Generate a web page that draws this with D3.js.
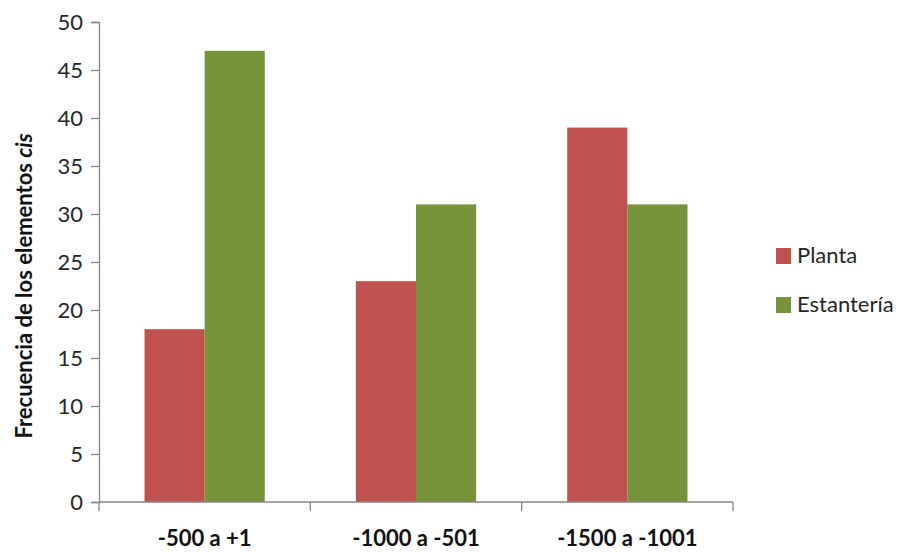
<!DOCTYPE html>
<html>
<head>
<meta charset="utf-8">
<script src="https://cdnjs.cloudflare.com/ajax/libs/d3/7.8.5/d3.min.js"></script>
<style>
  html, body { margin: 0; padding: 0; background: #fff; }
  svg { display: block; font-family: Lato, "Open Sans", sans-serif; }
</style>
</head>
<body>
<svg id="chart" width="907" height="552"></svg>
<script>
// Rangos de profundidad y frecuencias por ubicación
const categories = ["-500 a +1", "-1000 a -501", "-1500 a -1001"];
const seriesNames = ["Planta", "Estantería"];
const planta = [18, 23, 39];
const estanteria = [47, 31, 31];
const yTicks = [0, 5, 10, 15, 20, 25, 30, 35, 40, 45, 50];
const colors = ["#C0504D", "#77933C"];

const values = [planta, estanteria];

const svg = d3.select("#chart");
const plotLeft = 99, plotRight = 733, plotTop = 22, plotBottom = 502;

const x = d3.scaleBand().domain(categories).range([plotLeft, plotRight]).padding(0);
const xs = d3.scaleBand().domain(seriesNames)
  .range([x.bandwidth() * 0.2155, x.bandwidth() * 0.7845]).padding(0);
const y = d3.scaleLinear().domain([0, 50]).range([plotBottom, plotTop]);

// Barras
const groups = svg.append("g").selectAll("g")
  .data(categories).join("g")
  .attr("transform", d => `translate(${x(d)},0)`);

groups.selectAll("rect")
  .data((c, i) => seriesNames.map((s, k) => ({ s, v: values[k][i], k })))
  .join("rect")
  .attr("x", d => xs(d.s))
  .attr("width", xs.bandwidth())
  .attr("y", d => y(d.v))
  .attr("height", d => y(0) - y(d.v))
  .attr("fill", d => colors[d.k]);

// Eje Y
const yAxis = svg.append("g")
  .attr("transform", `translate(${plotLeft},0)`)
  .call(d3.axisLeft(y).tickValues(yTicks).tickSize(8).tickPadding(8));
yAxis.select(".domain").attr("stroke", "#868686").attr("stroke-width", 1.3);
yAxis.selectAll(".tick line").attr("stroke", "#868686").attr("stroke-width", 1.3);
yAxis.selectAll(".tick text")
  .attr("font-size", 22).attr("fill", "#262626")
  .attr("font-family", "Lato, sans-serif");

// Eje X con marcas en los límites de cada categoría
const xAxisG = svg.append("g").attr("transform", `translate(0,${plotBottom})`);
xAxisG.append("line")
  .attr("x1", plotLeft).attr("x2", plotRight).attr("y1", 0).attr("y2", 0)
  .attr("stroke", "#868686").attr("stroke-width", 1.3);
const bounds = categories.map(c => x(c)).concat([x(categories[categories.length - 1]) + x.bandwidth()]);
xAxisG.selectAll("line.tk").data(bounds).join("line")
  .attr("class", "tk")
  .attr("x1", d => d).attr("x2", d => d)
  .attr("y1", 0).attr("y2", 9)
  .attr("stroke", "#868686").attr("stroke-width", 1.3);
xAxisG.selectAll("text").data(categories).join("text")
  .attr("x", d => x(d) + x.bandwidth() / 2)
  .attr("y", 44)
  .attr("text-anchor", "middle")
  .attr("font-size", 22).attr("font-weight", 700).attr("fill", "#111")
  .text(d => d);

// Título del eje Y
const yTitle = svg.append("text")
  .attr("transform", "translate(32,286) rotate(-90)")
  .attr("text-anchor", "middle")
  .attr("font-size", 22).attr("font-weight", 700).attr("fill", "#111");
yTitle.append("tspan").text("Frecuencia de los elementos ");
yTitle.append("tspan").attr("font-style", "italic").text("cis");

// Leyenda
const legend = svg.append("g").selectAll("g")
  .data(seriesNames).join("g")
  .attr("transform", (d, i) => `translate(776,${248 + i * 49})`);
legend.append("rect")
  .attr("width", 15).attr("height", 16)
  .attr("fill", (d, i) => colors[i]);
legend.append("text")
  .attr("x", 21).attr("y", 15)
  .attr("font-size", 22).attr("fill", "#262626")
  .text(d => d);
</script>
</body>
</html>
